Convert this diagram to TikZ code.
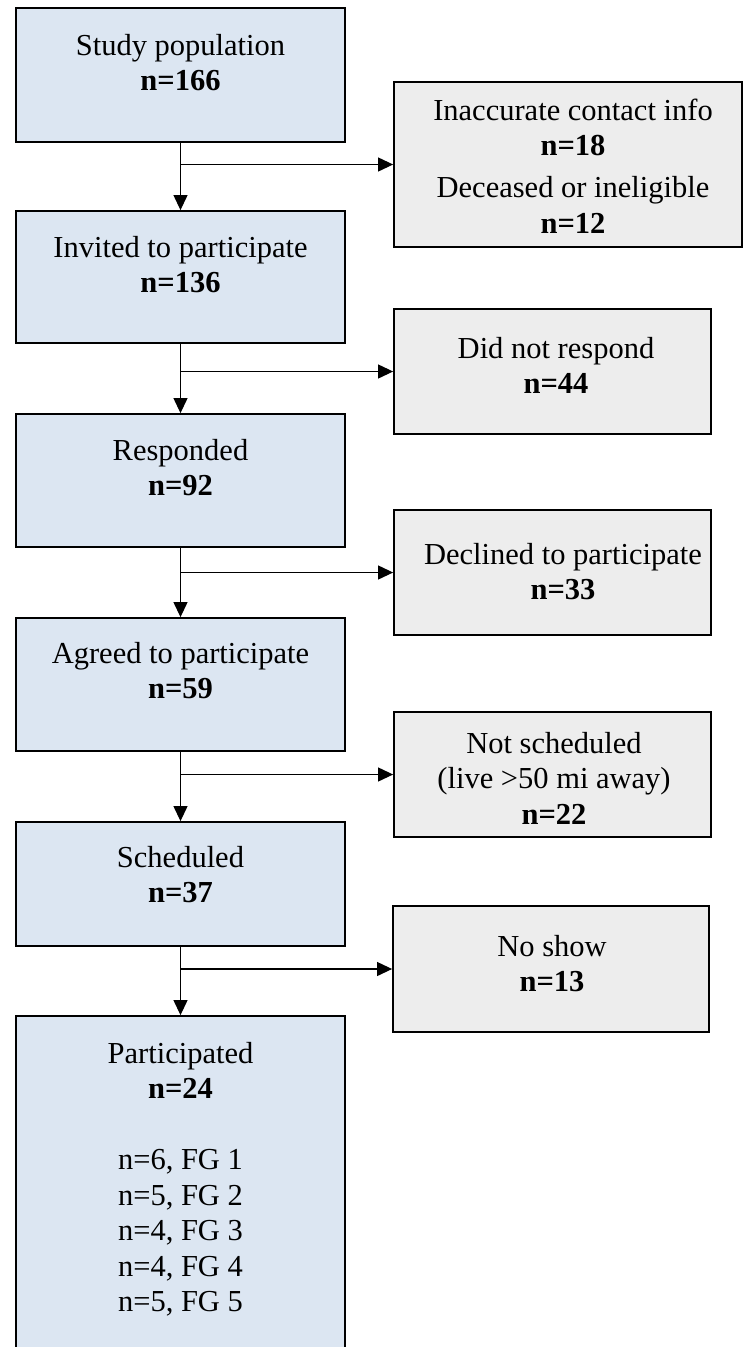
\documentclass[tikz,border=0pt]{standalone}
\usepackage{fontspec}
\setmainfont{Liberation Serif}
\usetikzlibrary{arrows.meta}
\definecolor{lblue}{HTML}{DCE6F2}
\definecolor{lgray}{HTML}{EDEDED}
\begin{document}
\begin{tikzpicture}[x=1pt,y=-1pt,
  box/.style={draw=black, line width=1.8pt, inner sep=0pt, rectangle},
  lbox/.style={box, fill=lblue, minimum width=329pt},
  rbox/.style={box, fill=lgray},
  txt/.style={inner sep=0pt, align=center, font=\fontsize{30.5}{35.5}\selectfont, anchor=north},
  conn/.style={line width=1.1pt, -{Triangle[length=15pt,width=14pt]}}]
\useasboundingbox (0,0) rectangle (744,1347);
\clip (0,0) rectangle (744,1347);
\fill[white] (0,0) rectangle (744,1347);

% left column
\node[lbox, minimum height=134pt] (b1) at (180.5,75) {};
\node[lbox, minimum height=132pt] (b2) at (180.5,277) {};
\node[lbox, minimum height=133pt] (b3) at (180.5,480.5) {};
\node[lbox, minimum height=133pt] (b4) at (180.5,684.5) {};
\node[lbox, minimum height=124pt] (b5) at (180.5,884) {};
\node[lbox, minimum height=384pt] (b6) at (180.5,1208) {};

\node[txt] (t1) at (180.5,30) {\strut Study population\\\textbf{n=166}};
\node[txt] (t2) at (180.5,232) {\strut Invited to participate\\\textbf{n=136}};
\node[txt] (t3) at (180.5,435) {\strut Responded\\\textbf{n=92}};
\node[txt] (t4) at (180.5,638) {\strut Agreed to participate\\\textbf{n=59}};
\node[txt] (t5) at (180.5,842) {\strut Scheduled\\\textbf{n=37}};
\node[txt] (t6) at (180.5,1038) {\strut Participated\\\textbf{n=24}\\ \\n=6, FG 1\\n=5, FG 2\\n=4, FG 3\\n=4, FG 4\\n=5, FG 5};

% right column
\node[rbox, minimum width=348pt, minimum height=165pt] (r1) at (568,164.5) {};
\node[rbox, minimum width=317pt, minimum height=125pt] (r2) at (552.5,371.5) {};
\node[rbox, minimum width=317pt, minimum height=125pt] (r3) at (552.5,572.5) {};
\node[rbox, minimum width=317pt, minimum height=125pt] (r4) at (552.5,774.5) {};
\node[rbox, minimum width=316pt, minimum height=126pt] (r5) at (551,969) {};

\node[txt] (s1) at (573,95) {\strut Inaccurate contact info\\\textbf{n=18}\\[6.5pt]Deceased or ineligible\\\textbf{n=12}};
\node[txt] (s2) at (556,333) {\strut Did not respond\\\textbf{n=44}};
\node[txt] (s3) at (563,539) {\strut Declined to participate\\\textbf{n=33}};
\node[txt] (s4) at (554,728) {\strut Not scheduled\\(live >50 mi away)\\\textbf{n=22}};
\node[txt] (s5) at (552,931) {\strut No show\\\textbf{n=13}};

% connectors
\draw[conn] (b1.south) -- (b2.north);
\draw[conn] (b2.south) -- (b3.north);
\draw[conn] (b3.south) -- (b4.north);
\draw[conn] (b4.south) -- (b5.north);
\draw[conn] (b5.south) -- (b6.north);

\coordinate (j1) at (b1.south |- r1.west);
\coordinate (j2) at (b2.south |- r2.west);
\coordinate (j3) at (b3.south |- r3.west);
\coordinate (j4) at (b4.south |- r4.west);
\coordinate (j5) at (b5.south |- r5.west);
\draw[conn] (j1) -- (r1.west);
\draw[conn] (j2) -- (r2.west);
\draw[conn] (j3) -- (r3.west);
\draw[conn] (j4) -- (r4.west);
\draw[conn] (j5) -- (r5.west);
\end{tikzpicture}
\end{document}
